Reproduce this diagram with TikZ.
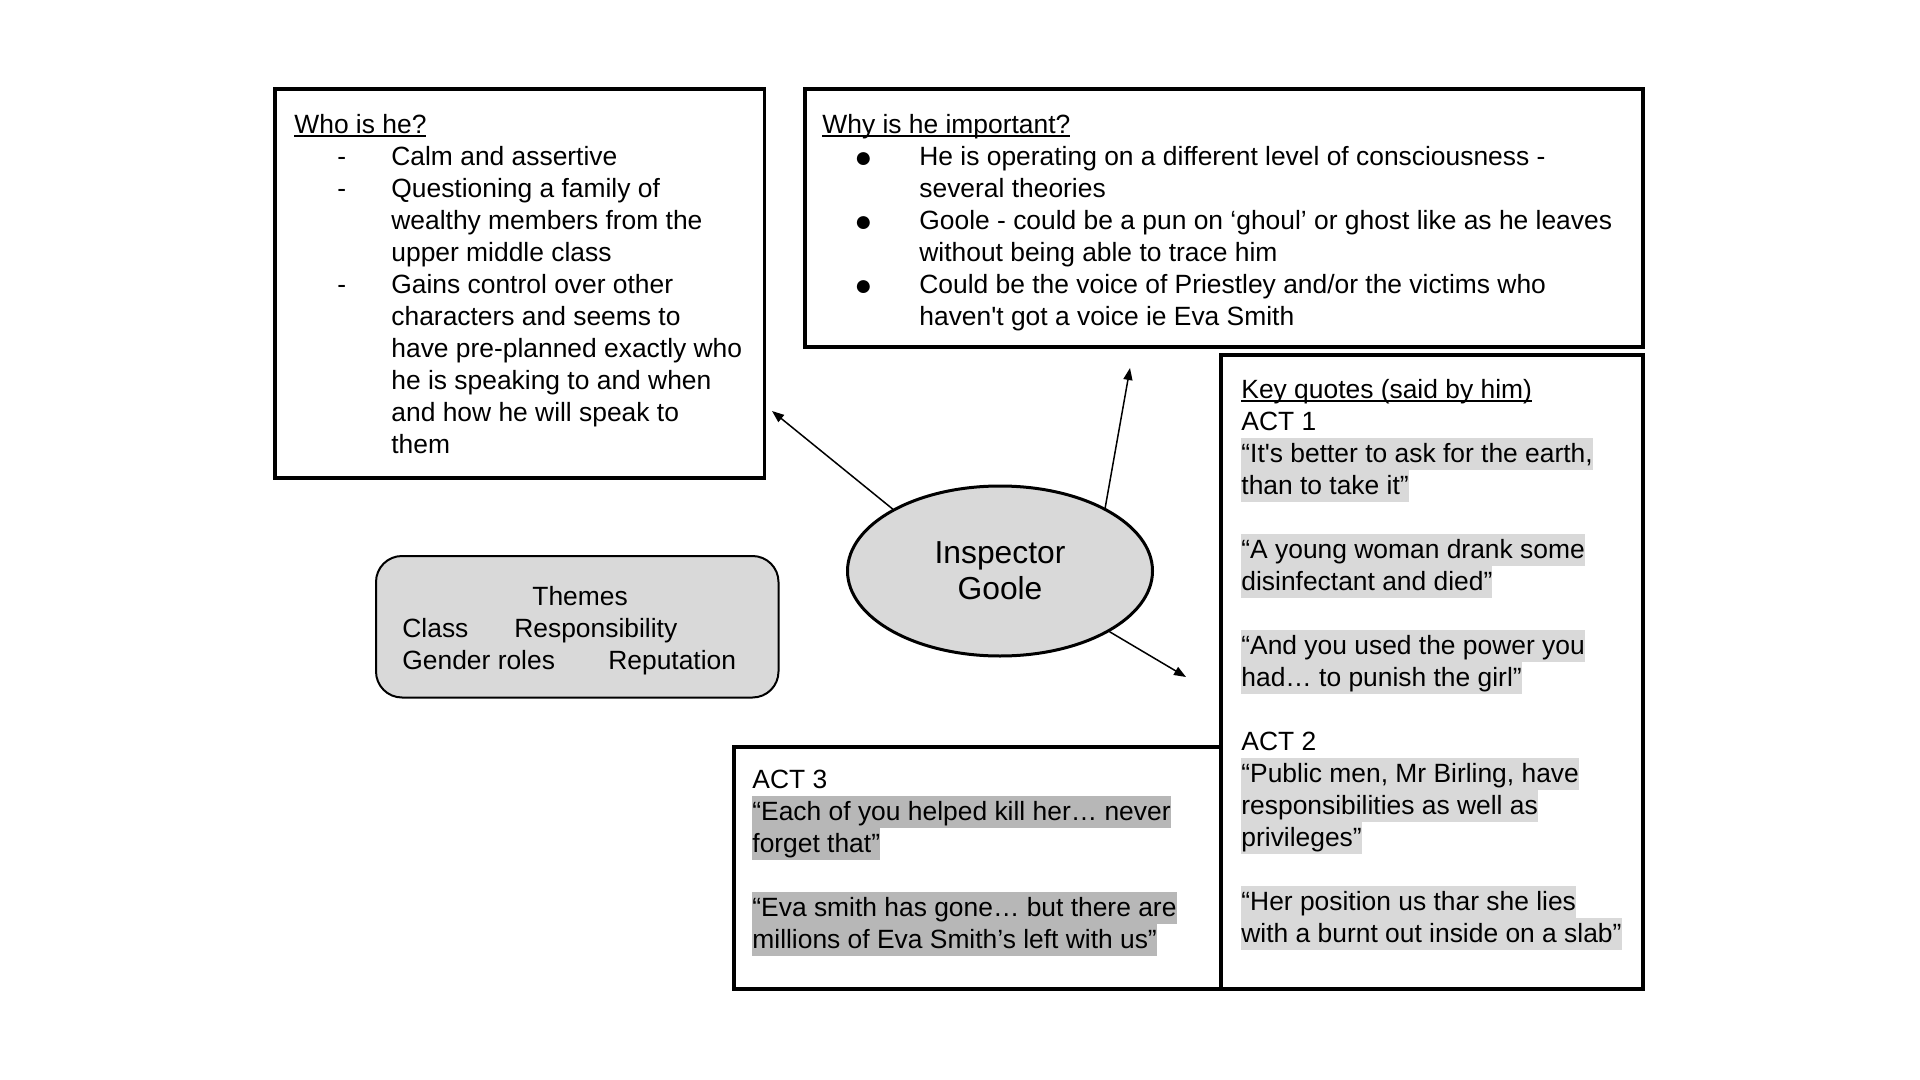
\documentclass[tikz,border=0pt]{standalone}
\usepackage{fontspec}
\setmainfont{Liberation Sans}[Ligatures=TeXOff]
\usetikzlibrary{arrows.meta,shapes.geometric}

\definecolor{shade}{HTML}{D9D9D9}
\definecolor{keygray}{HTML}{D9D9D9}
\definecolor{actgray}{HTML}{B7B7B7}

\newcommand\bodyfont{\fontsize{13.2pt}{16pt}\selectfont}
\newcommand\hubfont{\fontsize{15.9pt}{18pt}\selectfont}
\newcommand\linestrut{\rule[-4pt]{0pt}{16pt}}
\newcommand\undl[1]{\begingroup\setbox0\hbox{#1}\rlap{\rule[-1.6pt]{\wd0}{0.8pt}}\box0\endgroup}
\newcommand\keymark[1]{{\fboxsep=0pt\colorbox{keygray}{\linestrut#1}}}
\newcommand\actmark[1]{{\fboxsep=0pt\colorbox{actgray}{\linestrut#1}}}
\newcommand\bigdot{\raisebox{-1.2pt}{\fontsize{15pt}{15pt}\selectfont ●}}
\newcommand\dashitem{\linestrut\hspace*{21.5pt}\makebox[27pt][l]{-}}
\newcommand\dotitem{\linestrut\hspace*{16pt}\makebox[32.5pt][l]{\bigdot}}
\newcommand\contline{\linestrut\hspace*{48.5pt}}

\begin{document}
\begin{tikzpicture}
    [
        x=0.5pt,y=-0.5pt,
        Panel/.style={draw,line width=1.6pt,anchor=north west,inner sep=0pt,outer sep=0pt},
        ThemeBox/.style={draw,line width=1pt,fill=shade,rounded corners=13pt,anchor=north west,inner sep=0pt,outer sep=0pt},
        Hub/.style={ellipse,draw,line width=1.5pt,fill=shade,minimum width=152.5pt,minimum height=85pt,inner sep=0pt,align=center,font=\hubfont},
        TextBlock/.style={anchor=north west,inner sep=0pt,align=left,font=\bodyfont},
        Link/.style={-{Triangle[length=6pt,width=4.5pt]},line width=0.75pt}
    ]
    \fill[white] (0,0) rectangle (1920,1080);
    \useasboundingbox (0,0) rectangle (1920,1080);

    \node[Panel,minimum width=244.8pt,minimum height=194.5pt] (who) at (275,89) {};
    \node[Panel,minimum width=419pt,minimum height=129pt] (why) at (805,89) {};
    \node[Panel,minimum width=243.5pt,minimum height=121pt] (act3) at (734,747) {};
    \node[Panel,minimum width=211pt,minimum height=317pt] (quotes) at (1221,355) {};
    \node[ThemeBox,minimum width=201.25pt,minimum height=70.75pt] (themes) at (376,556) {};
    \node[Hub] (goole) at (1000,571) {Inspector\\Goole};

    \node[TextBlock] (who_text) at (294,109) {\linestrut\undl{Who is he?}\\
        \dashitem Calm and assertive\\
        \dashitem Questioning a family of\\
        \contline wealthy members from the\\
        \contline upper middle class\\
        \dashitem Gains control over other\\
        \contline characters and seems to\\
        \contline have pre-planned exactly who\\
        \contline he is speaking to and when\\
        \contline and how he will speak to\\
        \contline them};

    \node[TextBlock] (why_text) at (822,109) {\linestrut\undl{Why is he important?}\\
        \dotitem He is operating on a different level of consciousness -\\
        \contline several theories\\
        \dotitem Goole - could be a pun on ‘ghoul’ or ghost like as he leaves\\
        \contline without being able to trace him\\
        \dotitem Could be the voice of Priestley and/or the victims who\\
        \contline haven't got a voice ie Eva Smith};

    \node[TextBlock] (quotes_text) at (1241,374) {\linestrut\undl{Key quotes (said by him)}\\
        \linestrut ACT 1\\
        \keymark{“It's better to ask for the earth,}\\
        \keymark{than to take it”}\\
        \linestrut\\
        \keymark{“A young woman drank some}\\
        \keymark{disinfectant and died”}\\
        \linestrut\\
        \keymark{“And you used the power you}\\
        \keymark{had… to punish the girl”}\\
        \linestrut\\
        \linestrut ACT 2\\
        \keymark{“Public men, Mr Birling, have}\\
        \keymark{responsibilities as well as}\\
        \keymark{privileges”}\\
        \linestrut\\
        \keymark{“Her position us thar she lies}\\
        \keymark{with a burnt out inside on a slab”}};

    \node[TextBlock] (act3_text) at (752,764) {\linestrut ACT 3\\
        \actmark{“Each of you helped kill her… never}\\
        \actmark{forget that”}\\
        \linestrut\\
        \actmark{“Eva smith has gone… but there are}\\
        \actmark{millions of Eva Smith’s left with us”}};

    \node[TextBlock] (themes_text) at (402,581) {\linestrut\hspace*{65pt}Themes\\
        \linestrut\makebox[56pt][l]{Class}Responsibility\\
        \linestrut\makebox[103pt][l]{Gender roles}Reputation};

    \coordinate (who_tip) at (772,411);
    \coordinate (why_tip) at (1130,368);
    \coordinate (quotes_tip) at (1186,677);
    \draw[Link] (goole.150) -- (who_tip);
    \draw[Link] (goole.31) -- (why_tip);
    \draw[Link] (goole.-29) -- (quotes_tip);
\end{tikzpicture}
\end{document}
